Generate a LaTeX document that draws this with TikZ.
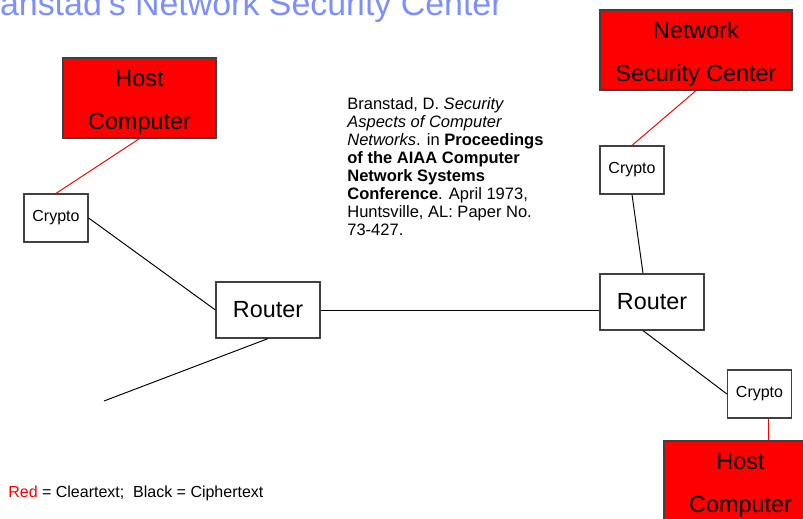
\documentclass[tikz,border=0pt]{standalone}
\usepackage{fontspec}
\setmainfont{Liberation Sans}
\usetikzlibrary{calc}
\definecolor{titleblue}{RGB}{125,142,255}

\tikzset{
  box/.style={draw=black!75, line width=0.7pt, inner sep=0pt, align=center},
  crypto/.style={box, fill=white, minimum width=1.28cm, minimum height=0.96cm, font=\fontsize{9.1}{11}\selectfont},
  router/.style={box, fill=white, minimum width=2.08cm, minimum height=1.12cm, font=\fontsize{13.3}{16}\selectfont},
  host/.style={box, fill=red, minimum width=3.06cm, minimum height=1.6cm, text height=38.5pt, font=\fontsize{13.3}{24.4}\selectfont},
  cipher/.style={draw=black, line width=0.55pt},
  clear/.style={draw=red, line width=0.55pt}
}

\begin{document}
\begin{tikzpicture}[x=0.02cm,y=-0.02cm]
	%%%%% START %%%%%
	\useasboundingbox (0,0) rectangle (803,519);
	\clip (0,0) rectangle (803,519);
	
	\node[anchor=base east, text=titleblue, font=\fontsize{19.3}{23}\selectfont, inner sep=0pt] (title) at (503,16) {Branstad's Network Security Center};
	
	% left side
	\node[host] (hostL) at (139.5,98) {Host\\Computer};
	\node[crypto] (cryptoL) at (56,218) {Crypto};
	\node[router] (routerL) at (268,310) {Router};
	\coordinate (lineEnd) at (104,401);
	
	% right side
	\node[host, minimum width=3.84cm] (nsc) at (696,50) {Network\\Security Center};
	\node[crypto] (cryptoR) at (632,170) {Crypto};
	\node[router] (routerR) at (652,302) {Router};
	\node[crypto] (cryptoB) at (759.5,394) {Crypto};
	\node[host] (hostR) at (740.5,481) {Host\\Computer};
	
	% links
	\draw[clear] (hostL.south) -- (cryptoL.north);
	\draw[cipher] (cryptoL.east) -- (routerL.west);
	\draw[cipher] (routerL.south) -- (lineEnd);
	\draw[cipher] (routerL.east) -- (routerL.east -| routerR.west);
	\draw[clear] (nsc.south) -- (cryptoR.north);
	\draw[cipher] (cryptoR.south) -- ($(routerR.north)+(-9,0)$);
	\draw[cipher] ($(routerR.south)+(-9,0)$) -- (cryptoB.west);
	\coordinate (tapB) at ($(cryptoB.south)+(8.5,0)$);
	\draw[clear] (tapB) -- (tapB |- hostR.north);
	
	\node[anchor=north west, align=left, inner sep=0pt, font=\fontsize{9.4}{10.3}\selectfont] (ref) at (347,97) {Branstad, D. \textit{Security}\\ \textit{Aspects of Computer}\\ \textit{Networks}. in \textbf{Proceedings}\\ \textbf{of the AIAA Computer}\\ \textbf{Network Systems}\\ \textbf{Conference}. April 1973,\\ Huntsville, AL: Paper No.\\ 73-427.};
	
	\node[anchor=base west, inner sep=0pt, font=\fontsize{9.1}{11}\selectfont] (legend) at (8,497) {\textcolor{red}{Red} = Cleartext;\ \ Black = Ciphertext};
	
	%%%%% END %%%%%
\end{tikzpicture}
\end{document}
